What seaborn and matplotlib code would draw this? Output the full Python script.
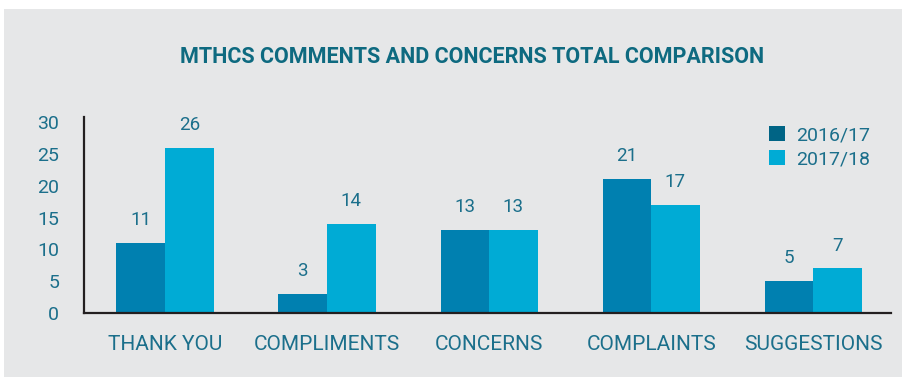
import matplotlib
matplotlib.use("Agg")
import matplotlib.pyplot as plt
import matplotlib.patches as mpatches
import seaborn as sns
import pandas as pd

categories = ["THANK YOU", "COMPLIMENTS", "CONCERNS", "COMPLAINTS", "SUGGESTIONS"]
series_names = ["2016/17", "2017/18"]
values_2016 = [11, 3, 13, 21, 5]
values_2017 = [26, 14, 13, 17, 7]
y_ticks = [0, 5, 10, 15, 20, 25, 30]
title = "MTHCS COMMENTS AND CONCERNS TOTAL COMPARISON"

df = pd.DataFrame({
    "category": categories * 2,
    "year": [series_names[0]] * len(categories) + [series_names[1]] * len(categories),
    "value": values_2016 + values_2017,
})

sns.set_theme(style="white")
plt.rcParams["font.family"] = ["Roboto", "DejaVu Sans"]

BG = "#e6e7e8"
DARK = "#0080b0"
LIGHT = "#00abd5"
TEXT = "#1b6f8b"
TITLE = "#0e6a80"

fig = plt.figure(figsize=(9.02, 3.77), dpi=100)
fig.patch.set_facecolor("white")
fig.patches.append(mpatches.Rectangle((4 / 902, 0), 1, 1 - 9 / 377, transform=fig.transFigure,
                                      facecolor=BG, edgecolor="none", zorder=-10))

ax = fig.add_axes([84 / 902, 1 - 313 / 377, (891 - 84) / 902, (313 - 117) / 377])
ax.set_facecolor("none")

sns.barplot(data=df, x="category", y="value", hue="year", order=categories,
            hue_order=series_names, palette=[DARK, LIGHT], width=0.6,
            saturation=1, linewidth=0, ax=ax, legend=False)

for container in ax.containers:
    ax.bar_label(container, padding=10, fontsize=13.5, color=TEXT)

ax.set_xlim(-0.5, 4.48)
ax.set_ylim(0, 30.8)
ax.set_yticks(y_ticks)
ax.set_xlabel("")
ax.set_ylabel("")
ax.tick_params(axis="y", length=0, pad=18, labelsize=14, labelcolor=TEXT)
ax.tick_params(axis="x", length=0, pad=16, labelsize=15, labelcolor=TEXT)

for s in ["top", "right"]:
    ax.spines[s].set_visible(False)
for s in ["left", "bottom"]:
    ax.spines[s].set_color("#231f20")
    ax.spines[s].set_linewidth(1.6)

handles = [mpatches.Patch(facecolor="#006485", edgecolor="none", label=series_names[0]),
           mpatches.Patch(facecolor=LIGHT, edgecolor="none", label=series_names[1])]
leg = fig.legend(handles=handles, loc="upper left", bbox_to_anchor=(755 / 902, 1 - 112 / 377),
                 frameon=False, fontsize=14, handlelength=0.85, handleheight=0.85,
                 handletextpad=0.55, labelspacing=0.3, borderpad=0.2)
for t in leg.get_texts():
    t.set_color(TEXT)

fig.text(472 / 902, 1 - 57 / 377, title, ha="center", va="center", fontsize=15.5,
         fontweight="bold", color=TITLE)

fig.savefig("out.png", dpi=100, facecolor=fig.get_facecolor())
